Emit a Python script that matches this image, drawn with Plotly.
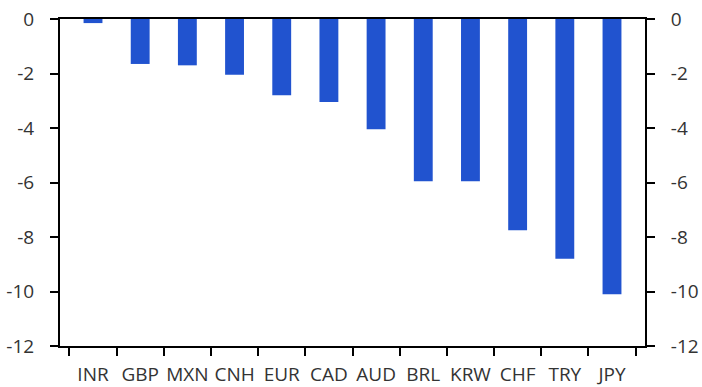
import plotly.graph_objects as go

currencies = ["INR", "GBP", "MXN", "CNH", "EUR", "CAD", "AUD", "BRL", "KRW", "CHF", "TRY", "JPY"]
values = [-0.15, -1.65, -1.7, -2.05, -2.8, -3.05, -4.05, -5.95, -5.95, -7.75, -8.8, -10.1]
y_ticks = [0, -2, -4, -6, -8, -10, -12]
y_labels = ["0", "-2", "-4", "-6", "-8", "-10", "-12"]

fig = go.Figure()
fig.add_trace(go.Bar(x=currencies, y=values, marker_color="#2153CF",
                     marker_line_width=0, width=0.4, showlegend=False))
# invisible trace so the right axis is drawn
fig.add_trace(go.Scatter(x=currencies, y=values, yaxis="y2", mode="markers",
                         marker_opacity=0, showlegend=False, hoverinfo="skip"))

font = dict(family="Open Sans", size=19, color="#333333")
axis_common = dict(range=[-12, 0], tickvals=y_ticks, ticktext=y_labels,
                   ticks="outside", ticklen=8, tickwidth=2, tickcolor="black",
                   showline=True, linecolor="black", linewidth=2, showgrid=False,
                   zeroline=False, tickfont=font, automargin=False,
                   ticklabelstandoff=12)

fig.update_layout(
    width=702, height=387,
    margin=dict(l=60, r=57, t=19, b=41),
    plot_bgcolor="white", paper_bgcolor="white",
    bargap=0.6,
    xaxis=dict(tickson="boundaries", ticks="outside", ticklen=8, tickwidth=2,
               tickcolor="black", showline=True, linecolor="black", linewidth=2,
               mirror=True, showgrid=False, tickfont=font, automargin=False,
               tickangle=0, ticklabelstandoff=10),
    yaxis=dict(side="left", **axis_common),
    yaxis2=dict(side="right", overlaying="y", **axis_common),
)

# drop the default 8px page margin so the figure sits at the window corner
fig.write_html("out.html", config={"displayModeBar": False},
               post_script="document.body.style.margin='0';")
